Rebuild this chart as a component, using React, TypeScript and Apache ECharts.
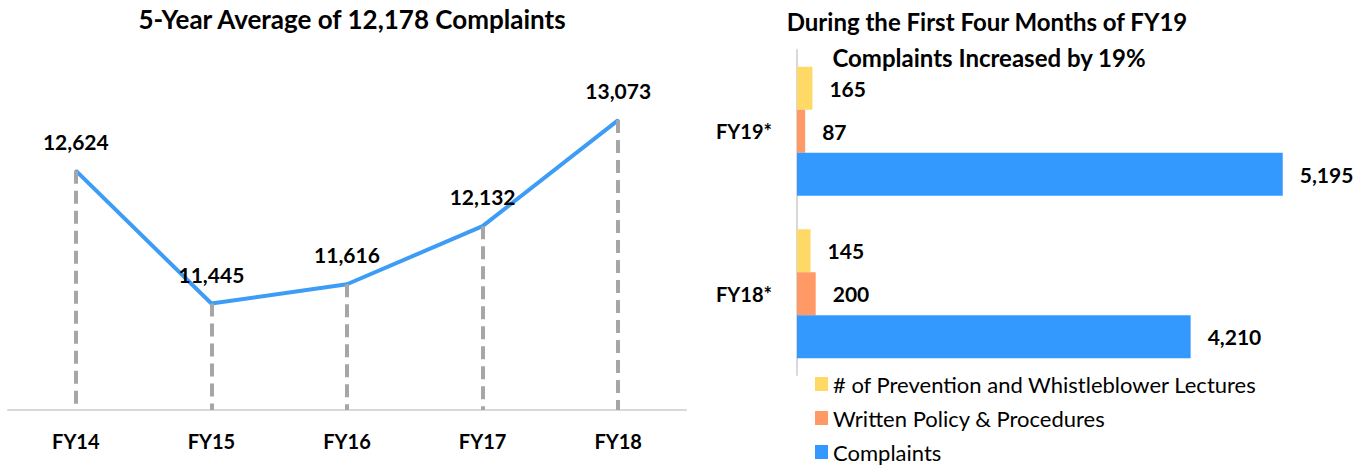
import React, { useEffect, useRef } from "react";
import * as echarts from "echarts";

const yearCats = ["FY14", "FY15", "FY16", "FY17", "FY18"];
const yearComplaints = [12624, 11445, 11616, 12132, 13073];

const periodCats = ["FY18*", "FY19*"];
const lectures = [145, 165];
const policies = [200, 87];
const complaints4m = [4210, 5195];

const seriesNames = ["# of Prevention and Whistleblower Lectures", "Written Policy & Procedures", "Complaints"];

const FONT = "Lato, 'Noto Sans', sans-serif";
const fmt = (v: number) => v.toLocaleString("en-US");

export default function App() {
  const ref = useRef<HTMLDivElement>(null);
  useEffect(() => {
    document.body.style.margin = "0";
    const chart = echarts.init(ref.current!, null, { renderer: "svg" });
    const yMin = 10500;
    const valLabel = {
      show: true,
      formatter: (p: any) => fmt(p.value),
      fontFamily: FONT,
      fontSize: 21,
      fontWeight: "bold",
      color: "#000",
    };
    chart.setOption({
      animation: false,
      textStyle: { fontFamily: FONT },
      graphic: [
        { type: "text", x: 352, y: 19, style: { text: "5-Year Average of 12,178 Complaints", font: `bold 26px ${FONT}`, fill: "#000", align: "center", verticalAlign: "middle" } },
        { type: "text", x: 987, y: 21, style: { text: "During the First Four Months of FY19", font: `bold 24px ${FONT}`, fill: "#000", align: "center", verticalAlign: "middle" } },
        { type: "text", x: 989, y: 57, style: { text: "Complaints Increased by 19%", font: `bold 24px ${FONT}`, fill: "#000", align: "center", verticalAlign: "middle" } },
      ],
      legend: {
        data: seriesNames,
        orient: "vertical",
        left: 815,
        top: 373,
        height: 110,
        padding: 0,
        icon: "rect",
        itemWidth: 13,
        itemHeight: 14,
        itemGap: 12,
        textStyle: { fontFamily: FONT, fontSize: 22, color: "#000" },
      },
      grid: [
        { left: 8, right: 681, top: 72, bottom: 55 },
        { left: 797, right: 9, top: 50, bottom: 90 },
      ],
      xAxis: [
        {
          gridIndex: 0,
          type: "category",
          data: yearCats,
          axisLine: { lineStyle: { color: "#d9d9d9", width: 2 } },
          axisTick: { show: false },
          axisLabel: { margin: 21, fontFamily: FONT, fontSize: 20, fontWeight: "bold", color: "#000" },
        },
        { gridIndex: 1, type: "value", min: 0, max: 6000, show: false },
      ],
      yAxis: [
        { gridIndex: 0, type: "value", min: yMin, max: 13500, show: false },
        {
          gridIndex: 1,
          type: "category",
          data: periodCats,
          axisLine: { lineStyle: { color: "#d9d9d9", width: 2 } },
          axisTick: { show: false },
          axisLabel: { margin: 25, fontFamily: FONT, fontSize: 20, fontWeight: "bold", color: "#000" },
        },
      ],
      series: [
        {
          type: "line",
          name: "drops",
          xAxisIndex: 0,
          yAxisIndex: 0,
          data: [],
          z: 1,
          markLine: {
            silent: true,
            symbol: "none",
            label: { show: false },
            lineStyle: { color: "#a6a6a6", width: 4, type: [13, 7] },
            data: yearComplaints.map((v, i) => [
              { coord: [i, v] },
              { coord: [i, yMin] },
            ]),
          },
        },
        {
          type: "line",
          name: "Complaints5y",
          xAxisIndex: 0,
          yAxisIndex: 0,
          data: yearComplaints,
          z: 3,
          symbol: "circle",
          symbolSize: 2,
          showSymbol: true,
          itemStyle: { color: "#3d9cf5" },
          lineStyle: { color: "#3d9cf5", width: 4 },
          label: { ...valLabel, position: "top", distance: 18 },
        },
        ...[
          { name: seriesNames[0], data: lectures, color: "#ffd966" },
          { name: seriesNames[1], data: policies, color: "#ff9966" },
          { name: seriesNames[2], data: complaints4m, color: "#3399ff" },
        ].map((s) => ({
          type: "bar",
          name: s.name,
          xAxisIndex: 1,
          yAxisIndex: 1,
          data: s.data,
          barWidth: 43,
          barGap: "0%",
          itemStyle: { color: s.color },
          label: { ...valLabel, position: "right", distance: 17 },
        })),
      ],
    });
    return () => chart.dispose();
  }, []);
  return <div ref={ref} style={{ width: 1367, height: 465 }} />;
}
